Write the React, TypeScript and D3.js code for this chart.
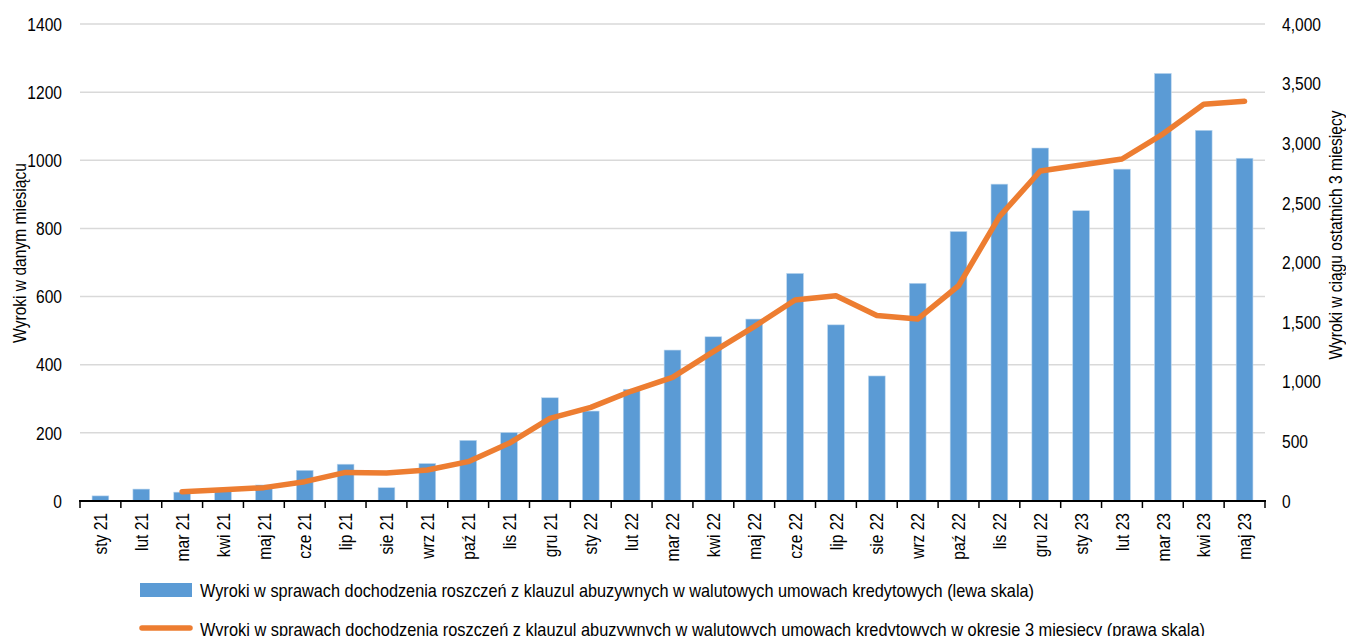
import { useEffect, useRef } from "react"
import * as d3 from "d3"

const categories = [
  "sty 21", "lut 21", "mar 21", "kwi 21", "maj 21", "cze 21", "lip 21", "sie 21", "wrz 21", "paź 21",
  "lis 21", "gru 21", "sty 22", "lut 22", "mar 22", "kwi 22", "maj 22", "cze 22", "lip 22", "sie 22",
  "wrz 22", "paź 22", "lis 22", "gru 22", "sty 23", "lut 23", "mar 23", "kwi 23", "maj 23"
]

// wyroki w danym miesiącu (lewa skala)
const monthly = [
  15, 35, 26, 33, 47, 90, 108, 39, 110, 178,
  201, 303, 264, 328, 443, 482, 534, 668, 517, 367,
  639, 791, 930, 1036, 852, 974, 1255, 1088, 1006
]

// wyroki w ciągu ostatnich 3 miesięcy (prawa skala)
const rolling3m: (number | null)[] = [
  null, null, 78, 95, 112, 162, 240, 235, 260, 330,
  484, 693, 785, 922, 1037, 1252, 1462, 1686, 1722, 1556,
  1526, 1805, 2384, 2767, 2818, 2868, 3077, 3327, 3352
]

const leftTicks = [0, 200, 400, 600, 800, 1000, 1200, 1400]
const rightTicks = [0, 500, 1000, 1500, 2000, 2500, 3000, 3500, 4000]

const leftTitle = "Wyroki w danym miesiącu"
const rightTitle = "Wyroki w ciągu ostatnich 3 miesięcy"
const legendBars = "Wyroki w sprawach dochodzenia roszczeń z klauzul abuzywnych w walutowych umowach kredytowych (lewa skala)"
const legendLine = "Wyroki w sprawach dochodzenia roszczeń z klauzul abuzywnych w walutowych umowach kredytowych w okresie 3 miesięcy (prawa skala)"

// no narrow font installed, so squeeze Liberation Sans horizontally
const FONT = "'Liberation Sans', Arial, sans-serif"
const SQ = 0.82
const BLUE = "#5b9bd5"
const ORANGE = "#ed7d31"

export default function App() {
  const svgRef = useRef<SVGSVGElement>(null)

  useEffect(() => {
    if (!svgRef.current) return
    document.body.style.margin = "0"

    const svg = d3.select(svgRef.current)
    svg.selectAll("*").remove()

    const width = 1346
    const height = 636
    const left = 80
    const right = 1265
    const top = 24
    const bottom = 501

    svg.attr("width", width).attr("height", height).style("display", "block")
      .style("font-family", FONT)

    const x = d3.scaleBand<string>()
      .domain(categories)
      .range([left, right])
      .paddingInner(0.59)
      .paddingOuter(0.295)

    const xStep = d3.scaleBand<string>().domain(categories).range([left, right])

    const yLeft = d3.scaleLinear().domain([0, 1400]).range([bottom, top])
    const yRight = d3.scaleLinear().domain([0, 4000]).range([bottom, top])

    // gridlines
    svg.append("g")
      .selectAll("line")
      .data(leftTicks.filter(t => t > 0))
      .join("line")
      .attr("x1", left)
      .attr("x2", right)
      .attr("y1", d => yLeft(d))
      .attr("y2", d => yLeft(d))
      .attr("stroke", "#d9d9d9")
      .attr("stroke-width", 1.5)

    // bars
    svg.append("g")
      .selectAll("rect")
      .data(monthly)
      .join("rect")
      .attr("x", (_, i) => x(categories[i])!)
      .attr("width", x.bandwidth())
      .attr("y", d => yLeft(d))
      .attr("height", d => bottom - yLeft(d))
      .attr("fill", BLUE)
      .attr("stroke", "#bdd7ee")
      .attr("stroke-width", 0.6)

    // x axis
    const axis = svg.append("g")
    axis.append("line")
      .attr("x1", left - 1)
      .attr("x2", right + 1)
      .attr("y1", bottom)
      .attr("y2", bottom)
      .attr("stroke", "#000")
      .attr("stroke-width", 2)

    const boundaries = categories.map(c => xStep(c)!).concat([right])
    axis.selectAll("line.tick")
      .data(boundaries)
      .join("line")
      .attr("class", "tick")
      .attr("x1", d => d)
      .attr("x2", d => d)
      .attr("y1", bottom)
      .attr("y2", bottom + 7)
      .attr("stroke", "#000")
      .attr("stroke-width", 1.5)

    axis.selectAll("text")
      .data(categories)
      .join("text")
      .attr("transform", d => `translate(${xStep(d)! + xStep.bandwidth() / 2},${bottom + 12}) rotate(-90) scale(${SQ},1)`)
      .attr("text-anchor", "end")
      .attr("dy", "0.35em")
      .style("font-size", "19px")
      .attr("fill", "#000")
      .text(d => d)

    // line
    const line = d3.line<number | null>()
      .defined(d => d !== null)
      .x((_, i) => xStep(categories[i])! + xStep.bandwidth() / 2)
      .y(d => yRight(d as number))

    svg.append("path")
      .datum(rolling3m)
      .attr("d", line)
      .attr("fill", "none")
      .attr("stroke", ORANGE)
      .attr("stroke-width", 5.5)
      .attr("stroke-linejoin", "round")
      .attr("stroke-linecap", "round")

    // left axis labels
    svg.append("g")
      .selectAll("text")
      .data(leftTicks)
      .join("text")
      .attr("transform", d => `translate(62,${yLeft(d)}) scale(${SQ},1)`)
      .attr("dy", "0.35em")
      .attr("text-anchor", "end")
      .style("font-size", "19px")
      .text(d => String(d))

    // right axis labels
    svg.append("g")
      .selectAll("text")
      .data(rightTicks)
      .join("text")
      .attr("transform", d => `translate(1282,${yRight(d)}) scale(${SQ},1)`)
      .attr("dy", "0.35em")
      .attr("text-anchor", "start")
      .style("font-size", "19px")
      .text(d => d3.format(",")(d))

    // axis titles
    svg.append("text")
      .attr("transform", `translate(19,253) rotate(-90) scale(${SQ},1)`)
      .attr("text-anchor", "middle")
      .attr("dy", "0.35em")
      .style("font-size", "19px")
      .text(leftTitle)

    svg.append("text")
      .attr("transform", `translate(1335,235) rotate(-90) scale(${SQ},1)`)
      .attr("text-anchor", "middle")
      .attr("dy", "0.35em")
      .style("font-size", "19px")
      .text(rightTitle)

    // legend
    const legend = svg.append("g")
    legend.append("rect")
      .attr("x", 140)
      .attr("y", 583)
      .attr("width", 52)
      .attr("height", 14)
      .attr("fill", BLUE)

    legend.append("text")
      .attr("x", 200)
      .attr("y", 590)
      .attr("dy", "0.35em")
      .attr("textLength", 834)
      .attr("lengthAdjust", "spacingAndGlyphs")
      .style("font-size", "19px")
      .text(legendBars)

    legend.append("line")
      .attr("x1", 142)
      .attr("x2", 190)
      .attr("y1", 628)
      .attr("y2", 628)
      .attr("stroke", ORANGE)
      .attr("stroke-width", 5.5)
      .attr("stroke-linecap", "round")

    legend.append("text")
      .attr("x", 200)
      .attr("y", 629)
      .attr("dy", "0.35em")
      .attr("textLength", 1005)
      .attr("lengthAdjust", "spacingAndGlyphs")
      .style("font-size", "19px")
      .text(legendLine)
  }, [])

  return <svg ref={svgRef} />
}
